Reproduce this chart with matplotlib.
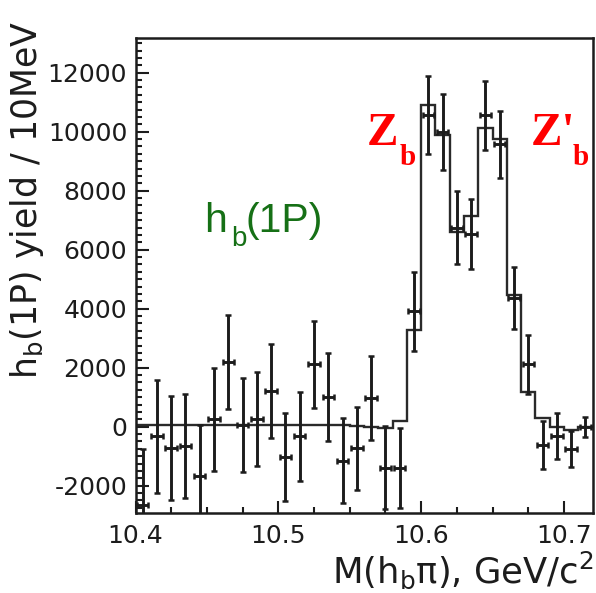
import numpy as np
import matplotlib
matplotlib.use("Agg")
import matplotlib.pyplot as plt
from matplotlib.ticker import MultipleLocator

plt.rcParams['font.family'] = ['DejaVu Sans']
plt.rcParams['mathtext.fontset'] = 'dejavusans'
plt.rcParams['mathtext.default'] = 'regular'
plt.rcParams['axes.unicode_minus'] = False

# Bin centres of M(h_b pi) in GeV/c^2 (10 MeV bins)
mass = [10.405, 10.415, 10.425, 10.435, 10.445, 10.455, 10.465, 10.475,
        10.485, 10.495, 10.505, 10.515, 10.525, 10.535, 10.545, 10.555,
        10.565, 10.575, 10.585, 10.595, 10.605, 10.615, 10.625, 10.635,
        10.645, 10.655, 10.665, 10.675, 10.685, 10.695, 10.705, 10.715]

# Measured h_b(1P) yield per bin and its uncertainty
yields = [-2650, -320, -720, -660, -1670, 250, 2200, 70,
          260, 1210, -1030, -330, 2110, 1020, -1150, -735,
          970, -1390, -1400, 3910, 10580, 9990, 6740, 6530,
          10550, 9570, 4370, 2110, -610, -330, -740, -20]
errors = [1900, 1920, 1760, 1770, 1730, 1740, 1600, 1595,
          1580, 1590, 1500, 1500, 1490, 1490, 1450, 1410,
          1410, 1400, 1370, 1340, 1320, 1285, 1240, 1200,
          1165, 1130, 1050, 1005, 810, 780, 610, 340]

# Fit result, one level per bin
fit = [60, 60, 60, 60, 60, 60, 60, 60,
       60, 60, 60, 60, 60, 60, 60, 20,
       -20, -50, 200, 3280, 10900, 9900, 6610, 7140,
       10120, 9750, 4460, 1190, 290, 0, -110, 0]

x_ticks = [10.4, 10.5, 10.6, 10.7]
y_ticks = [-2000, 0, 2000, 4000, 6000, 8000, 10000, 12000]

W, H = 596, 593
fig = plt.figure(figsize=(W / 100, H / 100), dpi=100)
ax = fig.add_axes([135.5 / W, 1 - 513 / H, (592.5 - 135.5) / W, (513 - 38.3) / H])

m = np.array(mass)
half = 0.005
edges = np.append(m - half, m[-1] + half)

ink = '#1c1c1c'
ax.stairs(fit, edges, baseline=None, color='#2a2a2a', lw=1.7, zorder=2)
ax.errorbar(m, yields, yerr=errors, xerr=half * 0.8, fmt='none',
            ecolor=ink, elinewidth=2.1, capsize=2.4, capthick=1.8, zorder=3)

ax.set_xlim(10.4, 10.72)
ax.set_ylim(-2925, 13166)
ax.set_xticks(x_ticks)
ax.set_xticklabels([f'{v:.1f}' for v in x_ticks])
ax.set_yticks(y_ticks)
ax.set_yticklabels([str(v) for v in y_ticks])
ax.xaxis.set_minor_locator(MultipleLocator(0.025))
ax.yaxis.set_minor_locator(MultipleLocator(250))
ax.tick_params(which='both', direction='in', top=False, right=False,
               colors=ink, labelsize=18, width=1.5)
ax.tick_params(which='major', length=9)
ax.tick_params(which='minor', length=4.5)
ax.tick_params(axis='y', pad=6)
ax.tick_params(axis='x', pad=8)
for s in ax.spines.values():
    s.set_linewidth(1.8)
    s.set_color(ink)

fig.text(27 / W, 1 - 200 / H, r'h$_{b}$(1P) yield / 10MeV', rotation=90,
         ha='center', va='center', fontsize=25, color=ink)
fig.text(594 / W, 1 - 583 / H, r'M(h$_{b}$π), GeV/c$^{2}$',
         ha='right', va='baseline', fontsize=25.5, color=ink)

green = '#167016'
sans = ['Liberation Sans', 'DejaVu Sans']
fig.text(204 / W, 1 - 232 / H, 'h', fontsize=29.5, color=green, va='baseline',
         family=sans)
fig.text(231 / W, 1 - 246 / H, 'b', fontsize=20, color=green, va='baseline',
         family=sans)
fig.text(245 / W, 1 - 232 / H, '(1P)', fontsize=29.5, color=green, va='baseline',
         family=sans)

red = '#ff0000'
serif = ['Liberation Serif', 'DejaVu Serif']
fig.text(367 / W, 1 - 145 / H, 'Z', fontsize=34, color=red, weight='bold',
         family=serif, va='baseline')
fig.text(400 / W, 1 - 165 / H, 'b', fontsize=21, color=red, weight='bold',
         family=serif, va='baseline')
fig.text(531 / W, 1 - 145 / H, "Z'", fontsize=34, color=red, weight='bold',
         family=serif, va='baseline')
fig.text(573 / W, 1 - 165 / H, 'b', fontsize=21, color=red, weight='bold',
         family=serif, va='baseline')

fig.savefig('out.png', dpi=100)
